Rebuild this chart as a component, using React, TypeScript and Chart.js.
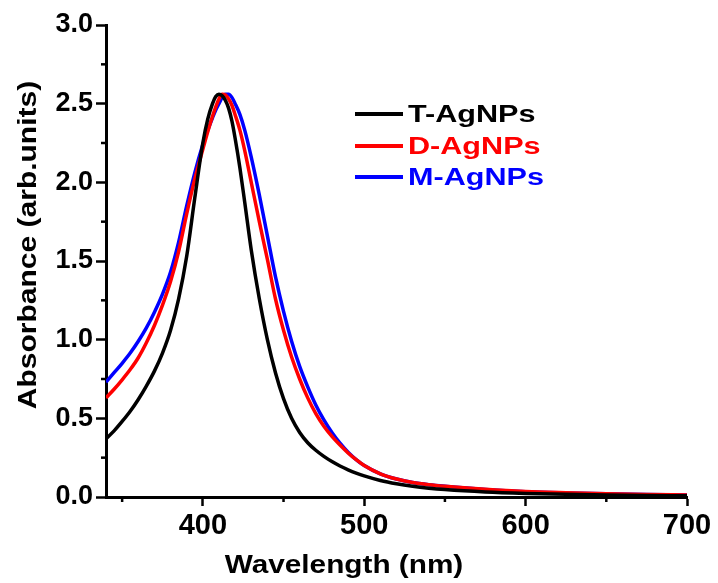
import React, { useEffect, useRef } from 'react';
import { Chart, registerables } from 'chart.js';

Chart.register(...registerables);

// ---- data ----
const wavelengths = [
  340, 345, 350, 355, 360, 365, 370, 375, 380, 385, 390, 395, 400, 403, 406, 408, 410, 412, 414, 416,
  418, 420, 423, 426, 430, 435, 440, 445, 450, 455, 460, 465, 470, 475, 480, 485, 490, 495, 500, 510,
  520, 530, 540, 550, 575, 600, 625, 650, 675, 700,
];

const tAgNPs = [
  0.37, 0.42, 0.48, 0.545, 0.62, 0.705, 0.80, 0.915, 1.06, 1.26, 1.53, 1.90, 2.25, 2.40, 2.50, 2.545, 2.56, 2.55, 2.52, 2.47,
  2.39, 2.28, 2.09, 1.87, 1.57, 1.26, 1.00, 0.79, 0.625, 0.50, 0.41, 0.345, 0.297, 0.258, 0.225, 0.197, 0.173, 0.152, 0.134, 0.105,
  0.084, 0.068, 0.056, 0.047, 0.032, 0.023, 0.017, 0.013, 0.01, 0.008,
];

const dAgNPs = [
  0.63, 0.685, 0.745, 0.81, 0.885, 0.98, 1.09, 1.22, 1.37, 1.56, 1.80, 2.02, 2.21, 2.32, 2.42, 2.48, 2.53, 2.56, 2.555, 2.53,
  2.49, 2.43, 2.33, 2.20, 2.00, 1.75, 1.51, 1.26, 1.06, 0.89, 0.75, 0.63, 0.53, 0.45, 0.385, 0.33, 0.28, 0.237, 0.20, 0.147,
  0.114, 0.092, 0.078, 0.068, 0.049, 0.035, 0.027, 0.021, 0.016, 0.013,
];

const mAgNPs = [
  0.73, 0.79, 0.85, 0.915, 0.99, 1.075, 1.175, 1.29, 1.43, 1.62, 1.85, 2.06, 2.24, 2.33, 2.41, 2.46, 2.50, 2.54, 2.56, 2.56,
  2.54, 2.50, 2.43, 2.33, 2.16, 1.92, 1.66, 1.40, 1.18, 0.99, 0.83, 0.70, 0.585, 0.49, 0.41, 0.342, 0.285, 0.238, 0.20, 0.147,
  0.114, 0.092, 0.078, 0.068, 0.048, 0.034, 0.026, 0.02, 0.016, 0.012,
];

const seriesLabels = ['T-AgNPs', 'D-AgNPs', 'M-AgNPs'];
const seriesValues = [tAgNPs, dAgNPs, mAgNPs];
const seriesColors = ['#000000', '#ff0000', '#0000ff'];

const xMajorTicks = [400, 500, 600, 700];
const xMinorTicks = [350, 450, 550, 650];
const yMinorTicks = [0.25, 0.75, 1.25, 1.75, 2.25, 2.75];

const xTitle = 'Wavelength (nm)';
const yTitle = 'Absorbance (arb.units)';

const FONT = '"Liberation Sans", Arial, Helvetica, sans-serif';

const decorPlugin = {
  id: 'decor',
  afterDraw(chart: any) {
    const ctx = chart.ctx as CanvasRenderingContext2D;
    const xs = chart.scales.x;
    const ys = chart.scales.y;
    const area = chart.chartArea;
    ctx.save();
    // minor ticks
    ctx.strokeStyle = '#000';
    ctx.lineWidth = 2.5;
    xMinorTicks.forEach((v) => {
      const px = xs.getPixelForValue(v);
      ctx.beginPath();
      ctx.moveTo(px, area.bottom);
      ctx.lineTo(px, area.bottom + 5);
      ctx.stroke();
    });
    yMinorTicks.forEach((v) => {
      const py = ys.getPixelForValue(v);
      ctx.beginPath();
      ctx.moveTo(area.left, py);
      ctx.lineTo(area.left - 5, py);
      ctx.stroke();
    });

    // axis titles
    ctx.fillStyle = '#000';
    ctx.font = `bold 25px ${FONT}`;
    ctx.save();
    ctx.translate(344, 573);
    ctx.scale(1.19, 1);
    ctx.textAlign = 'center';
    ctx.textBaseline = 'alphabetic';
    ctx.fillText(xTitle, 0, 0);
    ctx.restore();

    ctx.save();
    ctx.translate(29, 245);
    ctx.rotate(-Math.PI / 2);
    ctx.scale(1.2, 1);
    ctx.textAlign = 'center';
    ctx.textBaseline = 'middle';
    ctx.fillText(yTitle, 0, 0);
    ctx.restore();

    // legend
    const rowY = [115, 147, 178];
    chart.data.datasets.forEach((ds: any, i: number) => {
      const y = rowY[i];
      ctx.strokeStyle = ds.borderColor;
      ctx.lineWidth = 4;
      ctx.beginPath();
      ctx.moveTo(355, y - 1);
      ctx.lineTo(403, y - 1);
      ctx.stroke();
      ctx.save();
      ctx.fillStyle = ds.borderColor;
      ctx.font = `bold 23px ${FONT}`;
      ctx.translate(408, y + 1);
      ctx.scale(1.33, 1);
      ctx.textAlign = 'left';
      ctx.textBaseline = 'middle';
      ctx.fillText(ds.label, 0, 0);
      ctx.restore();
    });
    ctx.restore();
  },
};

export default function App() {
  const canvasRef = useRef<HTMLCanvasElement | null>(null);

  useEffect(() => {
    const canvas = canvasRef.current;
    if (!canvas) return;
    const chart = new Chart(canvas, {
      type: 'line',
      data: {
        datasets: seriesLabels.map((label, i) => ({
          label,
          data: wavelengths.map((w, j) => ({ x: w, y: seriesValues[i][j] })),
          borderColor: seriesColors[i],
          backgroundColor: seriesColors[i],
          borderWidth: 3.5,
          pointRadius: 0,
          fill: false,
          cubicInterpolationMode: 'monotone' as const,
        })),
      },
      options: {
        responsive: false,
        animation: false,
        devicePixelRatio: 1,
        layout: { padding: { left: 0, top: 25, right: 31, bottom: 0 } },
        plugins: {
          legend: { display: false },
          tooltip: { enabled: false },
        },
        scales: {
          x: {
            type: 'linear',
            min: 340,
            max: 700,
            afterBuildTicks: (axis: any) => {
              axis.ticks = xMajorTicks.map((v) => ({ value: v }));
            },
            afterFit: (scale: any) => {
              scale.height = 86;
            },
            grid: {
              display: true,
              drawOnChartArea: false,
              drawTicks: true,
              tickLength: 9,
              tickColor: '#000',
              tickWidth: 2.5,
            },
            border: { display: true, color: '#000', width: 3 },
            ticks: {
              color: '#000',
              font: { family: FONT, size: 29, weight: 'bold' },
              padding: 3,
              maxRotation: 0,
              callback: (v: any) => String(v),
            },
          },
          y: {
            type: 'linear',
            min: 0,
            max: 3,
            afterFit: (scale: any) => {
              scale.width = 106;
            },
            grid: {
              display: true,
              drawOnChartArea: false,
              drawTicks: true,
              tickLength: 10,
              tickColor: '#000',
              tickWidth: 2.5,
            },
            border: { display: true, color: '#000', width: 3 },
            ticks: {
              stepSize: 0.5,
              color: '#000',
              font: { family: FONT, size: 27, weight: 'bold' },
              padding: 3,
              callback: (v: any) => Number(v).toFixed(1),
            },
          },
        },
      },
      plugins: [decorPlugin],
    });
    return () => chart.destroy();
  }, []);

  return (
    <div style={{ position: 'fixed', left: 0, top: 0, width: 718, height: 583, background: '#fff' }}>
      <canvas ref={canvasRef} width={718} height={583} style={{ display: 'block' }} />
    </div>
  );
}
